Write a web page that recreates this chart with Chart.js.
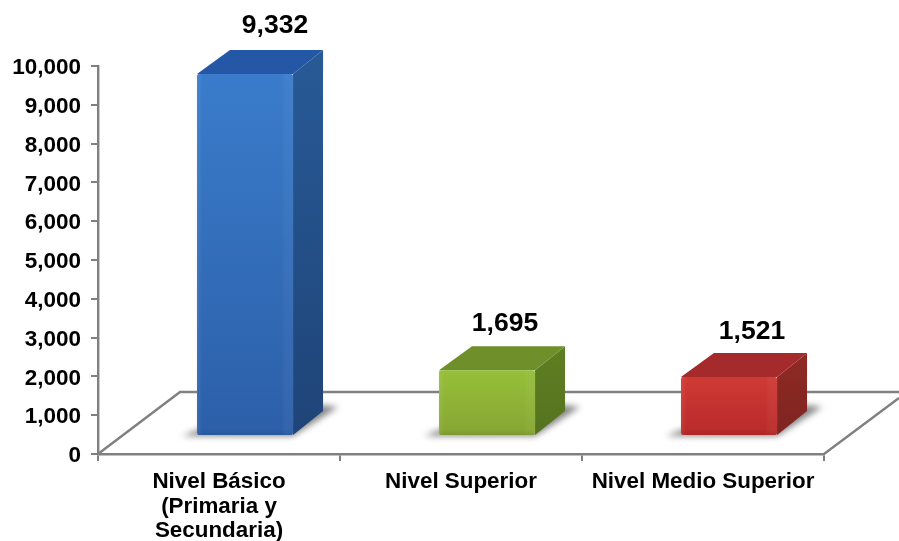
<!DOCTYPE html>
<html><head><meta charset="utf-8">
<style>html,body{margin:0;padding:0;background:#fff}#w{position:absolute;left:0;top:0;width:899px;height:541px}</style>
<script src="https://cdn.jsdelivr.net/npm/chart.js@4/dist/chart.umd.min.js"></script>
</head><body><div id="w"><canvas id="c" width="899" height="541"></canvas></div>
<script>
const categories = [["Nivel Básico","(Primaria y","Secundaria)"],"Nivel Superior","Nivel Medio Superior"];
const values = [9332,1695,1521];
const frontTop = ["#3a7ccb","#96bf3a","#d03a34"];
const frontBottom = ["#2c5fa8","#86a532","#b82a2a"];
const topFace = ["#2458a6","#6f8f2a","#a52a2c"];
const sideTop = ["#285a96","#5f7f22","#8f2a24"];
const sideBottom = ["#1f4478","#557320","#7f2420"];
const fmt = v => v.toLocaleString("en-US");

const DX=30, DY=-24, SHIFT_X=26, SHIFT_Y=-18;
const labelDX=[30,18,23], labelDY=[0,1,3];

const cube = {
  id:"cube",
  beforeDatasetsDraw(ch){
    const c=ch.ctx, a=ch.chartArea, m=ch.getDatasetMeta(0), y=ch.scales.y, x0=a.left, x1=a.right, b=y.getPixelForValue(0);
    c.save();
    c.strokeStyle="#808080"; c.lineWidth=2.4;
    c.beginPath();
    c.moveTo(x0,b); c.lineTo(x0+82,b-62); c.lineTo(899,b-62);
    c.moveTo(x1,b); c.lineTo(x1+75,b-56);
    c.stroke();
    m.data.forEach((bar,i)=>{
      const l=bar.x-bar.width/2+SHIFT_X, r=bar.x+bar.width/2+SHIFT_X, t=bar.y+SHIFT_Y, bt=bar.base+SHIFT_Y;
      c.save();
      c.filter="blur(3px)"; c.fillStyle="#858585";
      c.beginPath();
      c.moveTo(l-15,bt+1); c.lineTo(r,bt+1); c.lineTo(r+45,bt-28); c.lineTo(r+28,bt-30); c.lineTo(r,bt-10); c.lineTo(l,bt-5);
      c.closePath(); c.fill();
      c.restore();
      const gs=c.createLinearGradient(0,t+DY,0,bt);
      gs.addColorStop(0,sideTop[i]); gs.addColorStop(1,sideBottom[i]);
      c.fillStyle=gs;
      c.beginPath(); c.moveTo(r,t); c.lineTo(r+DX,t+DY); c.lineTo(r+DX,bt+DY); c.lineTo(r,bt); c.closePath(); c.fill();
      c.fillStyle=topFace[i];
      c.beginPath(); c.moveTo(l,t); c.lineTo(l+DX+3,t+DY); c.lineTo(r+DX,t+DY); c.lineTo(r,t); c.closePath(); c.fill();
    });
    c.restore();
    c.save();
    c.translate(SHIFT_X,SHIFT_Y);
  },
  afterDatasetsDraw(ch){
    const c=ch.ctx, m=ch.getDatasetMeta(0);
    c.restore();
    c.save();
    m.data.forEach((bar,i)=>{
      const l=bar.x-bar.width/2+SHIFT_X, r=bar.x+bar.width/2+SHIFT_X, t=bar.y+SHIFT_Y, bt=bar.base+SHIFT_Y;
      const g=c.createLinearGradient(l,0,r,0);
      g.addColorStop(0,"rgba(255,255,255,0.08)");
      g.addColorStop(0.06,"rgba(255,255,255,0)");
      g.addColorStop(0.88,"rgba(255,255,255,0)");
      g.addColorStop(0.92,"rgba(255,255,255,0.035)");
      g.addColorStop(1,"rgba(255,255,255,0.035)");
      c.fillStyle=g; c.fillRect(l,t,r-l,bt-t);
      const h=c.createLinearGradient(0,bt-6,0,bt);
      h.addColorStop(0,"rgba(0,0,0,0)"); h.addColorStop(1,"rgba(0,0,0,0.08)");
      c.fillStyle=h; c.fillRect(l+1,bt-6,r-l-2,6);
    });
    c.font="bold 26.5px 'Liberation Sans'"; c.fillStyle="#000"; c.textAlign="center"; c.textBaseline="middle";
    m.data.forEach((bar,i)=>{
      c.fillText(fmt(values[i]), bar.x+SHIFT_X+labelDX[i], bar.y+SHIFT_Y+DY+labelDY[i]-24);
    });
    c.restore();
  }
};

new Chart(document.getElementById("c"),{
  type:"bar",
  data:{labels:categories,datasets:[{data:values,
    backgroundColor(ctx){
      const {chart,dataIndex:i}=ctx, a=chart.chartArea;
      if(!a) return frontTop[i];
      const t=chart.scales.y.getPixelForValue(values[i]), b=chart.scales.y.getPixelForValue(0);
      const g=chart.ctx.createLinearGradient(0,t,0,b);
      g.addColorStop(0,frontTop[i]); g.addColorStop(1,frontBottom[i]);
      return g;
    },
    borderRadius:2,borderSkipped:false,barPercentage:0.397,categoryPercentage:1}]},
  plugins:[cube],
  options:{
    responsive:false,animation:false,
    layout:{padding:{left:0,right:75,top:66,bottom:0}},
    plugins:{legend:{display:false},tooltip:{enabled:false}},
    scales:{
      x:{
        afterFit(s){s.height=87},
        grid:{drawOnChartArea:false,color:"#808080",lineWidth:2,tickLength:7,offset:true},
        border:{color:"#808080",width:2.4},
        ticks:{color:"#000",font:{family:"'Liberation Sans'",weight:"bold",size:22.4,lineHeight:1.09},maxRotation:0,autoSkip:false,padding:9}
      },
      y:{
        min:0,max:10000,
        afterFit(s){s.width=98},
        grid:{drawOnChartArea:false,color:"#808080",lineWidth:2,tickLength:7},
        border:{color:"#808080",width:2.4},
        ticks:{stepSize:1000,color:"#000",callback:v=>fmt(v),font:{family:"'Liberation Sans'",weight:"bold",size:22.5},padding:10,labelOffset:2}
      }
    }
  }
});
</script></body></html>
